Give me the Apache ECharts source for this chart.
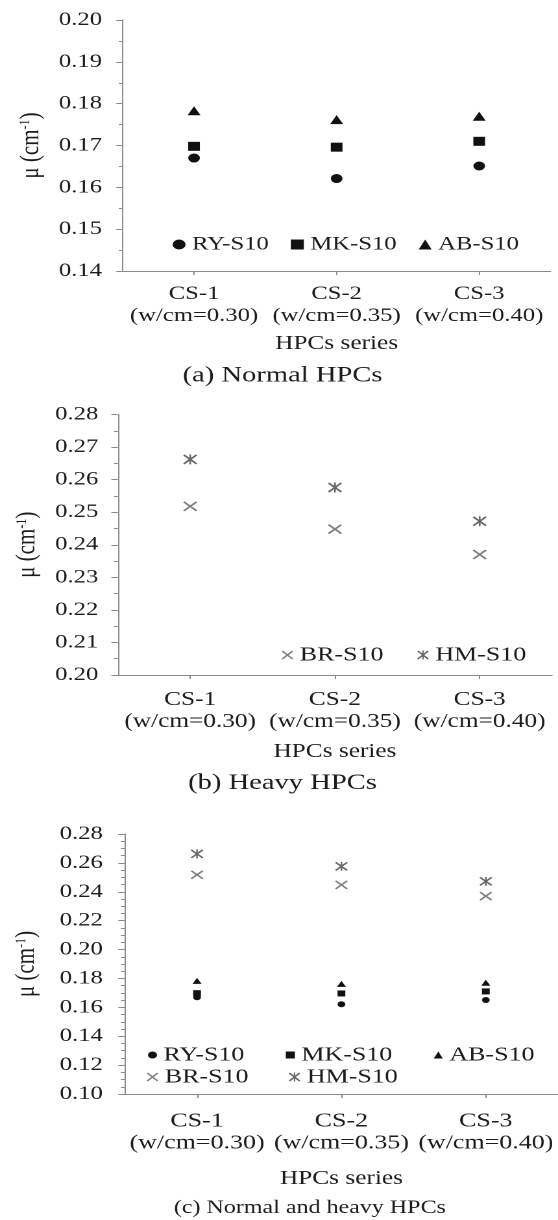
<!DOCTYPE html>
<html>
<head>
<meta charset="utf-8">
<script src="https://cdn.jsdelivr.net/npm/echarts@6.0.0/dist/echarts.min.js"></script>
<style>
  html, body { margin: 0; padding: 0; background: #fff; overflow: hidden; }
  /* the source figure is stretched sideways, so the chart is drawn narrow and widened */
  #chart { width: 430px; height: 1220px; transform: scaleX(1.2977); transform-origin: 0 0; }
</style>
</head>
<body>
<div id="chart"></div>
<script>
const categories = ['CS-1\n(w/cm=0.30)', 'CS-2\n(w/cm=0.35)', 'CS-3\n(w/cm=0.40)'];
const ryValues = [0.1670, 0.1621, 0.1651];
const mkValues = [0.1698, 0.1696, 0.1710];
const abValues = [0.1783, 0.1762, 0.1770];
const brValues = [0.2518, 0.2448, 0.2370];
const hmValues = [0.2662, 0.2576, 0.2472];

const FONT = '"Liberation Serif", "Times New Roman", serif';
const AXIS_GRAY = '#8a8a8a';
const TEXT = '#1c1c1c';
const BLACK = '#111';
const GRAY = '#808080';
const DARK_GRAY = '#686868';
const CROSS = 'path://M0 2.2L2.2 0L10 7.8L17.8 0L20 2.2L12.2 10L20 17.8L17.8 20L10 12.2L2.2 20L0 17.8L7.8 10Z';
const STAR = 'path://M0 2.2L2.2 0L10 7.8L17.8 0L20 2.2L12.2 10L20 17.8L17.8 20L10 12.2L2.2 20L0 17.8L7.8 10ZM8.8 0L11.2 0L11.2 20L8.8 20Z';

function xAxis(gridIndex, fontSize, labelMargin, nameGap) {
  return {
    type: 'category', gridIndex, data: categories, boundaryGap: true,
    name: 'HPCs series', nameLocation: 'middle', nameGap,
    nameTextStyle: { fontFamily: FONT, fontSize: 19.5, color: TEXT },
    axisLine: { show: true, lineStyle: { color: AXIS_GRAY, width: 1 } },
    axisTick: { show: true, alignWithLabel: true, length: 4, lineStyle: { color: AXIS_GRAY } },
    splitLine: { show: false },
    axisLabel: { interval: 0, fontFamily: FONT, fontSize, lineHeight: 22, color: TEXT, margin: labelMargin }
  };
}

function yAxis(gridIndex, min, max, interval, minorSplit, labelMargin, nameGap) {
  return {
    type: 'value', gridIndex, min, max, interval,
    name: 'μ (cm{sup|-1})', nameLocation: 'middle', nameGap,
    nameTextStyle: {
      fontFamily: FONT, fontSize: 21, color: TEXT,
      rich: { sup: { fontFamily: FONT, fontSize: 12, color: TEXT, verticalAlign: 'top' } }
    },
    axisLine: { show: true, lineStyle: { color: AXIS_GRAY, width: 1 } },
    axisTick: { show: true, length: 5, lineStyle: { color: AXIS_GRAY } },
    minorTick: { show: true, splitNumber: minorSplit, length: 3, lineStyle: { color: AXIS_GRAY } },
    splitLine: { show: false },
    axisLabel: { fontFamily: FONT, fontSize: 19, color: TEXT, margin: labelMargin, formatter: v => v.toFixed(2) }
  };
}

function scatter(name, gridIndex, values, symbol, size, color) {
  return {
    name, type: 'scatter', xAxisIndex: gridIndex, yAxisIndex: gridIndex,
    data: values, symbol, symbolSize: size,
    itemStyle: { color, opacity: 1 },
    emphasis: { disabled: true }, silent: true
  };
}

function legend(items, left, top, size, gap, fontSize) {
  return {
    data: items, left, top, padding: 0, itemWidth: size, itemHeight: size, itemGap: gap,
    selectedMode: false,
    textStyle: { fontFamily: FONT, fontSize, color: TEXT }
  };
}

function caption(text, x, y, fontSize) {
  return {
    type: 'text', x, y, silent: true,
    style: {
      text, fontFamily: FONT, fontSize, fill: TEXT,
      align: 'center', verticalAlign: 'middle', textAlign: 'center', textVerticalAlign: 'middle'
    }
  };
}

const chart = echarts.init(document.getElementById('chart'), null, { renderer: 'canvas', devicePixelRatio: 2 });

chart.setOption({
  animation: false,
  backgroundColor: '#fff',
  grid: [
    { left: 94.6, top: 20, width: 329.6, height: 251, outerBoundsMode: 'none' },
    { left: 90.8, top: 414.5, width: 334.6, height: 260.5, outerBoundsMode: 'none' },
    { left: 96.2, top: 834, width: 333.8, height: 260, outerBoundsMode: 'none' }
  ],
  xAxis: [
    xAxis(0, 19, 12, 63),
    xAxis(1, 19.5, 14, 67),
    xAxis(2, 20, 16, 75)
  ],
  yAxis: [
    yAxis(0, 0.14, 0.20, 0.01, 2, 16, 48.5),
    yAxis(1, 0.20, 0.28, 0.01, 2, 15, 58.5),
    yAxis(2, 0.10, 0.28, 0.02, 4, 17, 65)
  ],
  legend: [
    legend([{ name: 'RY-S10', icon: 'circle' }, { name: 'MK-S10', icon: 'rect' }, { name: 'AB-S10', icon: 'triangle' }],
      133, 235, 10, 17, 19),
    legend([{ name: 'BR-S10', icon: CROSS }, { name: 'HM-S10', icon: STAR }],
      217, 645, 9, 26, 20),
    legend([{ name: 'RY-S10', icon: 'circle' }, { name: 'MK-S10', icon: 'rect' }, { name: 'AB-S10', icon: 'triangle' }],
      114, 1045, 7, 32, 20),
    legend([{ name: 'BR-S10', icon: CROSS }, { name: 'HM-S10', icon: STAR }],
      113, 1067, 9, 31, 20)
  ],
  graphic: [
    caption('(a) Normal HPCs', 217.7, 375.5, 22),
    caption('(b) Heavy HPCs', 217.7, 783, 22),
    caption('(c) Normal and heavy HPCs', 238.8, 1208, 18.5)
  ],
  series: [
    scatter('RY-S10', 0, ryValues, 'circle', 9, BLACK),
    scatter('MK-S10', 0, mkValues, 'rect', 9, BLACK),
    scatter('AB-S10', 0, abValues, 'triangle', [10, 9], BLACK),
    scatter('BR-S10', 1, brValues, CROSS, [11, 10], GRAY),
    scatter('HM-S10', 1, hmValues, STAR, [11, 10], DARK_GRAY),
    scatter('RY-S10', 2, ryValues, 'circle', 6, BLACK),
    scatter('MK-S10', 2, mkValues, 'rect', 6, BLACK),
    scatter('AB-S10', 2, abValues, 'triangle', [7, 6], BLACK),
    scatter('BR-S10', 2, brValues, CROSS, [10, 9], GRAY),
    scatter('HM-S10', 2, hmValues, STAR, [10, 9], DARK_GRAY)
  ]
});
</script>
</body>
</html>
